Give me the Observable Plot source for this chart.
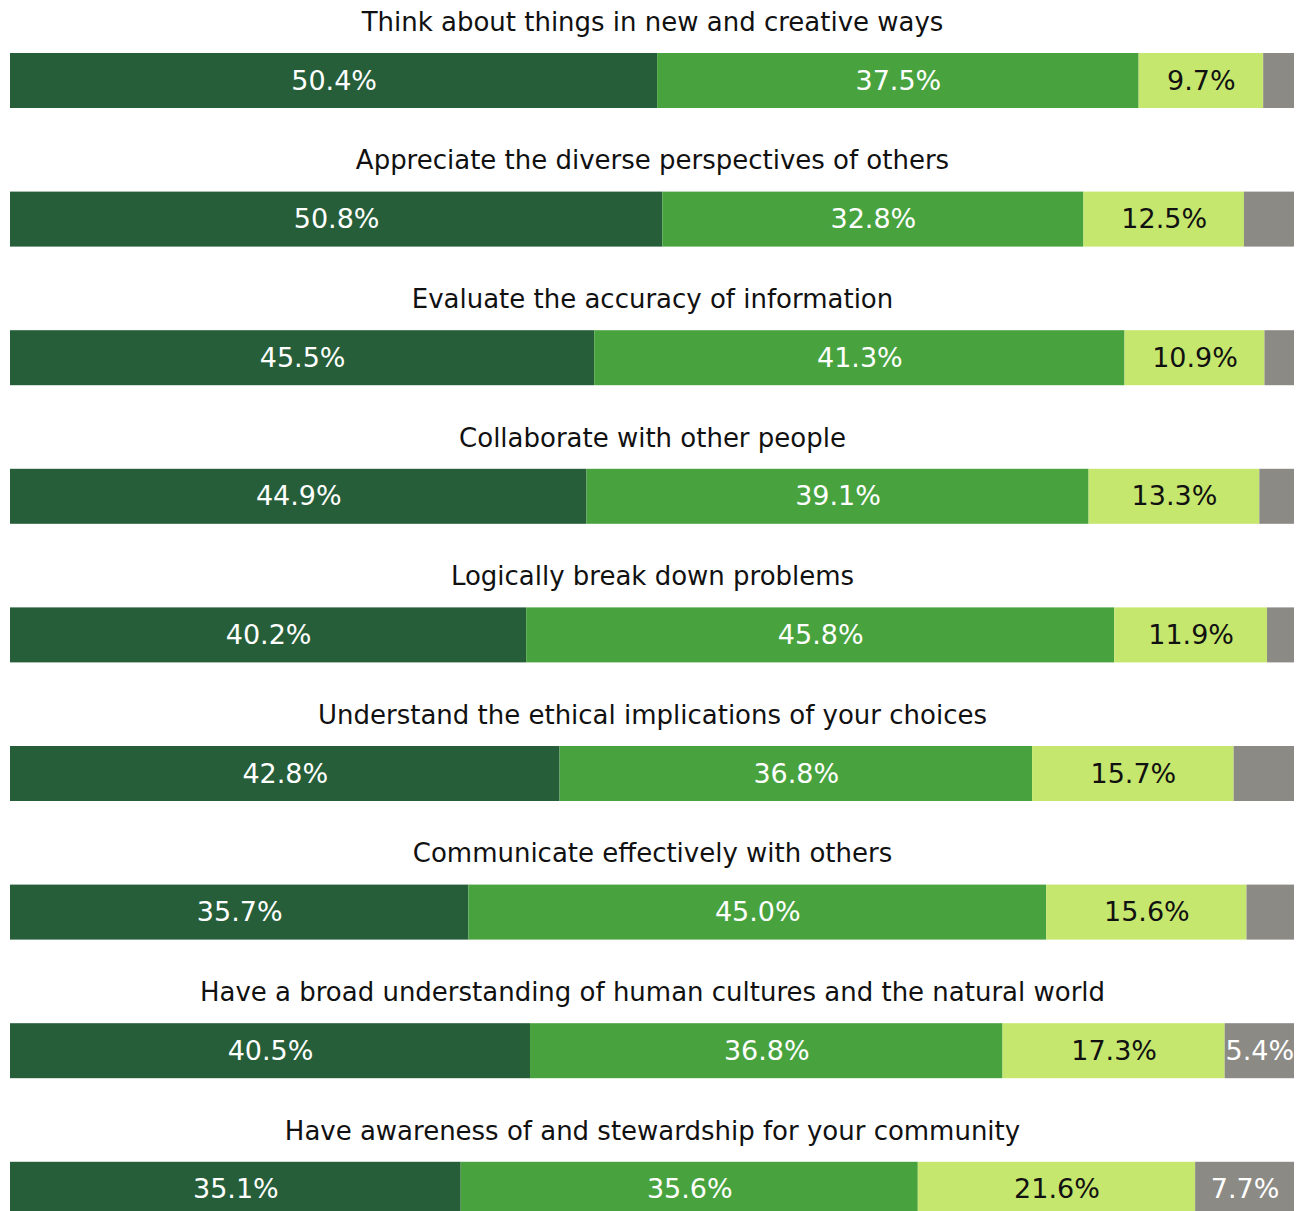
<!DOCTYPE html>
<html>
<head>
<meta charset="utf-8">
<script src="https://cdn.jsdelivr.net/npm/d3@7"></script>
<script src="https://cdn.jsdelivr.net/npm/@observablehq/plot@0.6"></script>
<style>
  html, body { margin: 0; padding: 0; background: #fff; }
  #chart svg { display: block; }
</style>
</head>
<body>
<div id="chart"></div>
<script>
const categories = [
  "Think about things in new and creative ways",
  "Appreciate the diverse perspectives of others",
  "Evaluate the accuracy of information",
  "Collaborate with other people",
  "Logically break down problems",
  "Understand the ethical implications of your choices",
  "Communicate effectively with others",
  "Have a broad understanding of human cultures and the natural world",
  "Have awareness of and stewardship for your community"
];
const segments = ["Very much", "Quite a bit", "Some", "Very little / not at all"];
const veryMuch  = [50.4, 50.8, 45.5, 44.9, 40.2, 42.8, 35.7, 40.5, 35.1];
const quiteABit = [37.5, 32.8, 41.3, 39.1, 45.8, 36.8, 45.0, 36.8, 35.6];
const some      = [9.7, 12.5, 10.9, 13.3, 11.9, 15.7, 15.6, 17.3, 21.6];
const little    = [2.4, 3.9, 2.3, 2.7, 2.1, 4.7, 3.7, 5.4, 7.7];
const showLittleLabel = [false, false, false, false, false, false, false, true, true];

const colors = ["#265e3a", "#48a33f", "#c6e76d", "#8c8a85"];
const textColors = ["#ffffff", "#ffffff", "#111111", "#ffffff"];

const series = [veryMuch, quiteABit, some, little];
const data = [];
categories.forEach((c, i) => {
  series.forEach((s, j) => {
    data.push({
      cat: c,
      seg: segments[j],
      value: s[i],
      label: (j < 3 || showLittleLabel[i]) ? s[i].toFixed(1) + "%" : ""
    });
  });
});

const rowH = 138.6;
const W = 1301;
const H = rowH * categories.length;
const font = "'DejaVu Sans', sans-serif";

const plot = Plot.plot({
  width: W,
  height: H,
  marginLeft: 10,
  marginRight: 7,
  marginTop: 0,
  marginBottom: 0,
  style: { fontFamily: font, background: "#fff" },
  x: { domain: [0, 100], axis: null },
  y: { domain: categories, axis: null, paddingInner: 0, paddingOuter: 0, round: false },
  color: { domain: segments, range: colors },
  marks: [
    Plot.barX(data, Plot.stackX({
      x: "value", y: "cat", z: "seg", fill: "seg",
      insetTop: 53, insetBottom: rowH - 108
    })),
    Plot.text(categories, {
      y: d => d, x: 50, text: d => d,
      dy: 22 - rowH / 2, fontSize: 26, fill: "#111", textAnchor: "middle"
    }),
    Plot.text(data, Plot.stackX({
      x: "value", y: "cat", z: "seg", text: "label",
      fill: d => textColors[segments.indexOf(d.seg)],
      dy: 80.5 - rowH / 2, fontSize: 27
    }))
  ]
});
document.getElementById("chart").appendChild(plot);
</script>
</body>
</html>
